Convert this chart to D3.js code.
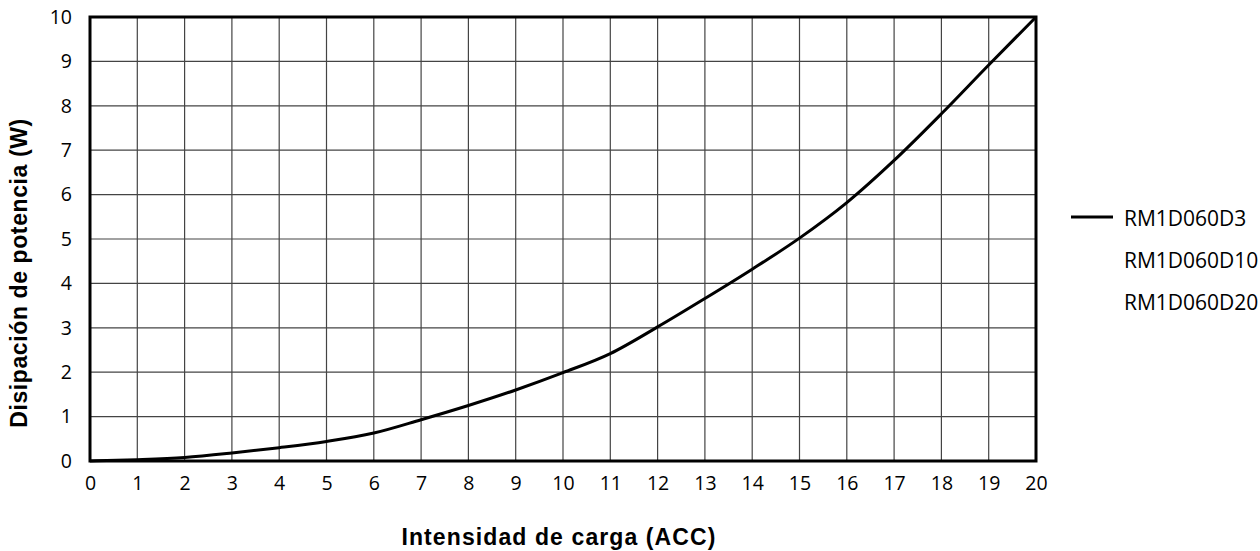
<!DOCTYPE html>
<html><head><meta charset="utf-8">
<script src="https://cdn.jsdelivr.net/npm/d3@7"></script>
<style>body{margin:0;background:#fff}</style>
</head><body>
<svg id="c" width="1260" height="551"></svg>
<script>
const xValues = [0,1,2,3,4,5,6,7,8,9,10,11,12,13,14,15,16,17,18,19,20];
const powerD3 = [0,0.03,0.08,0.18,0.3,0.44,0.63,0.93,1.25,1.6,1.99,2.42,3.02,3.66,4.32,5.02,5.82,6.77,7.82,8.92,10];
const xTicks = d3.range(0,21);
const yTicks = d3.range(0,11);
const legendLabels = ["RM1D060D3","RM1D060D10","RM1D060D20"];
const xTitle = "Intensidad de carga (ACC)";
const yTitle = "Disipación de potencia (W)";

const svg = d3.select("#c");
const L=90,R=1036,T=17,B=461;
const x = d3.scaleLinear().domain([0,20]).range([L,R]);
const y = d3.scaleLinear().domain([0,10]).range([B,T]);
const tickFont = "'Open Sans', sans-serif";

// grid
svg.append("g").selectAll("line").data(xTicks).join("line")
  .attr("x1",d=>x(d)).attr("x2",d=>x(d)).attr("y1",T).attr("y2",B)
  .attr("stroke","#444").attr("stroke-width",1.2);
svg.append("g").selectAll("line").data(yTicks).join("line")
  .attr("y1",d=>y(d)).attr("y2",d=>y(d)).attr("x1",L).attr("x2",R)
  .attr("stroke","#444").attr("stroke-width",1.2);

// axes labels
const xa = svg.append("g").attr("transform",`translate(0,${B})`)
  .call(d3.axisBottom(x).tickValues(xTicks).tickSize(0).tickPadding(15).tickFormat(d3.format("d")));
xa.select(".domain").remove();
xa.selectAll("text").attr("font-family",tickFont).attr("font-size",19.5).attr("fill","#000");
const ya = svg.append("g").attr("transform",`translate(${L},0)`)
  .call(d3.axisLeft(y).tickValues(yTicks).tickSize(0).tickPadding(18).tickFormat(d3.format("d")));
ya.select(".domain").remove();
ya.selectAll("text").attr("font-family",tickFont).attr("font-size",19.5).attr("fill","#000");

// curve
svg.append("path").datum(xValues.map((v,i)=>[v,powerD3[i]]))
  .attr("d", d3.line().x(d=>x(d[0])).y(d=>y(d[1])).curve(d3.curveMonotoneX))
  .attr("fill","none").attr("stroke","#000").attr("stroke-width",3);

// border
svg.append("rect").attr("x",L).attr("y",T).attr("width",R-L).attr("height",B-T)
  .attr("fill","none").attr("stroke","#000").attr("stroke-width",3);

// titles
svg.append("text").attr("x",559).attr("y",545).attr("text-anchor","middle")
  .attr("font-family","'Liberation Sans', Arial, sans-serif").attr("font-weight","bold")
  .attr("font-size",23).attr("letter-spacing",1.1).text(xTitle);
svg.append("text").attr("transform","translate(27,273) rotate(-90)").attr("text-anchor","middle")
  .attr("font-family","'Liberation Sans', Arial, sans-serif").attr("font-weight","bold")
  .attr("font-size",23).attr("letter-spacing",0.6).text(yTitle);

// legend
const lg = svg.append("g");
lg.append("line").attr("x1",1071).attr("x2",1113).attr("y1",217).attr("y2",217)
  .attr("stroke","#000").attr("stroke-width",3);
lg.selectAll("text").data(legendLabels).join("text")
  .attr("x",1124).attr("y",(d,i)=>219+i*42).attr("dy","0.35em")
  .attr("font-family",tickFont).attr("font-size",21).text(d=>d);
</script>
</body></html>
